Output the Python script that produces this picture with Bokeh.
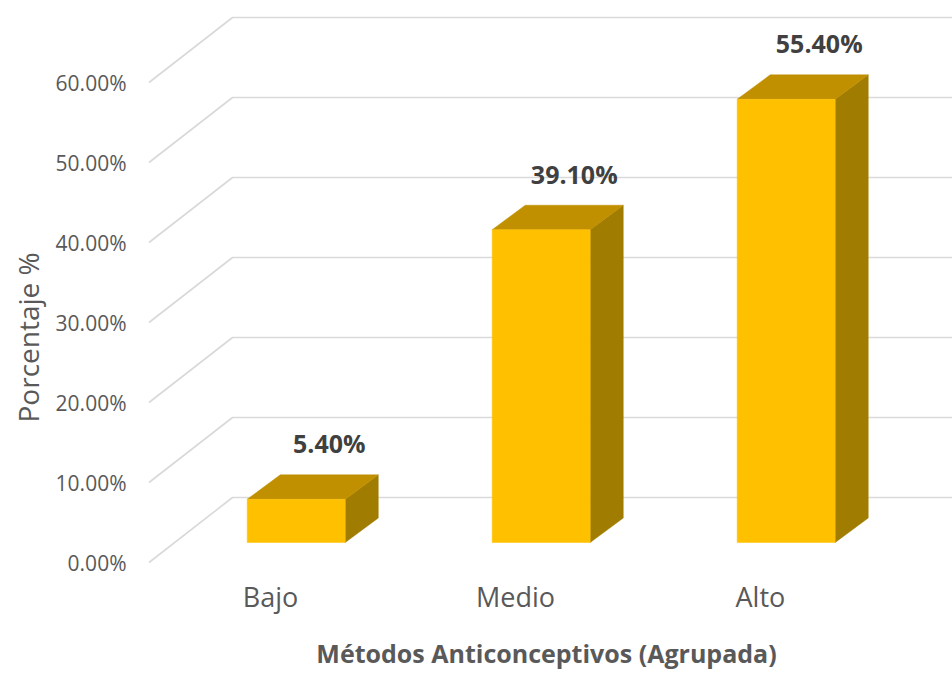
from bokeh.plotting import figure
from bokeh.models import FixedTicker, PrintfTickFormatter, Title, Range1d
from bokeh.embed import file_html
from bokeh.resources import INLINE
from bokeh.core.properties import value

# ---- data ----
categories = ["Bajo", "Medio", "Alto"]
percentages = [5.4, 39.1, 55.4]
y_ticks = [0, 10, 20, 30, 40, 50, 60]
x_title = "Métodos Anticonceptivos (Agrupada)"
y_title = "Porcentaje %"

# ---- 3D projection style constants (data units) ----
FLOOR_X0 = -0.496                  # left end of front floor edge
WALL_DX, WALL_DY = 0.341, 8.125    # floor depth projected
BAR_LEFT, BAR_W = -0.095, 0.4
BAR_Z0 = 2.5                       # elevation of bar front-face floor
BAR_DX, BAR_DY = 0.135, 3.06
LABEL_DX, LABEL_DY = 0.24, 9.5
X_START, X_END = -0.5306, 2.784
Y_START, Y_END = -0.125, 70.25

FRONT = "#FFC000"
TOP = "#C09000"
SIDE = "#A07C00"
GRID = "#D9D9D9"
AXIS_TXT = "#595959"
FONT = "Open Sans"

p = figure(width=952, height=675,
           x_range=Range1d(X_START, X_END), y_range=Range1d(Y_START, Y_END),
           output_backend="svg", toolbar_location=None,
           min_border_left=140, min_border_right=0, min_border_top=0, min_border_bottom=112)
p.outline_line_color = None
p.grid.visible = False

# back wall + floor-to-wall diagonals
xs_wall, ys_wall = [], []
for v in y_ticks:
    xs_wall.append([FLOOR_X0, FLOOR_X0 + WALL_DX, X_END + 1])
    ys_wall.append([v, v + WALL_DY, v + WALL_DY])
p.multi_line(xs_wall, ys_wall, line_color=GRID, line_width=1.6)

# bars
idx = list(range(len(categories)))
lefts = [i + BAR_LEFT for i in idx]
rights = [i + BAR_LEFT + BAR_W for i in idx]
tops = [v + BAR_Z0 for v in percentages]

top_xs = [[l, r, r + BAR_DX, l + BAR_DX] for l, r in zip(lefts, rights)]
top_ys = [[t, t, t + BAR_DY, t + BAR_DY] for t in tops]
side_xs = [[r, r, r + BAR_DX, r + BAR_DX] for r in rights]
side_ys = [[BAR_Z0, t, t + BAR_DY, BAR_Z0 + BAR_DY] for t in tops]

p.patches(side_xs, side_ys, fill_color=SIDE, line_color=SIDE, line_width=0.5)
p.patches(top_xs, top_ys, fill_color=TOP, line_color=TOP, line_width=0.5)
p.quad(left=lefts, right=rights, bottom=BAR_Z0, top=tops,
       fill_color=FRONT, line_color=FRONT, line_width=0.5)

# data labels
p.text(x=[i + LABEL_DX for i in idx], y=[v + LABEL_DY for v in percentages],
       text=[f"{v:.2f}%" for v in percentages],
       text_font=value(FONT), text_font_style="bold", text_font_size="25px",
       text_color="#404040", text_align="center", text_baseline="middle")

# x axis
xa = p.xaxis[0]
xa.ticker = FixedTicker(ticks=idx)
xa.major_label_overrides = {i: c for i, c in zip(idx, categories)}
xa.axis_line_color = None
xa.major_tick_line_color = None
xa.minor_tick_line_color = None
xa.major_label_text_font = FONT
xa.major_label_text_font_size = "27px"
xa.major_label_text_color = AXIS_TXT
xa.major_label_standoff = 8
xa.axis_label = x_title
xa.axis_label_text_font = FONT
xa.axis_label_text_font_style = "bold"
xa.axis_label_text_font_size = "25px"
xa.axis_label_text_color = AXIS_TXT
xa.axis_label_standoff = 18

# y axis
ya = p.yaxis[0]
ya.ticker = FixedTicker(ticks=y_ticks)
ya.formatter = PrintfTickFormatter(format="%.2f%%")
ya.axis_line_color = None
ya.major_tick_line_color = None
ya.minor_tick_line_color = None
ya.major_label_text_font = FONT
ya.major_label_text_font_size = "21px"
ya.major_label_text_color = AXIS_TXT
ya.major_label_standoff = 8

p.add_layout(Title(text=y_title, align="left", offset=141, standoff=11,
                   text_font=FONT, text_font_size="28px", text_font_style="normal",
                   text_color=AXIS_TXT), "left")

open("out.html", "w").write(file_html(p, INLINE))
